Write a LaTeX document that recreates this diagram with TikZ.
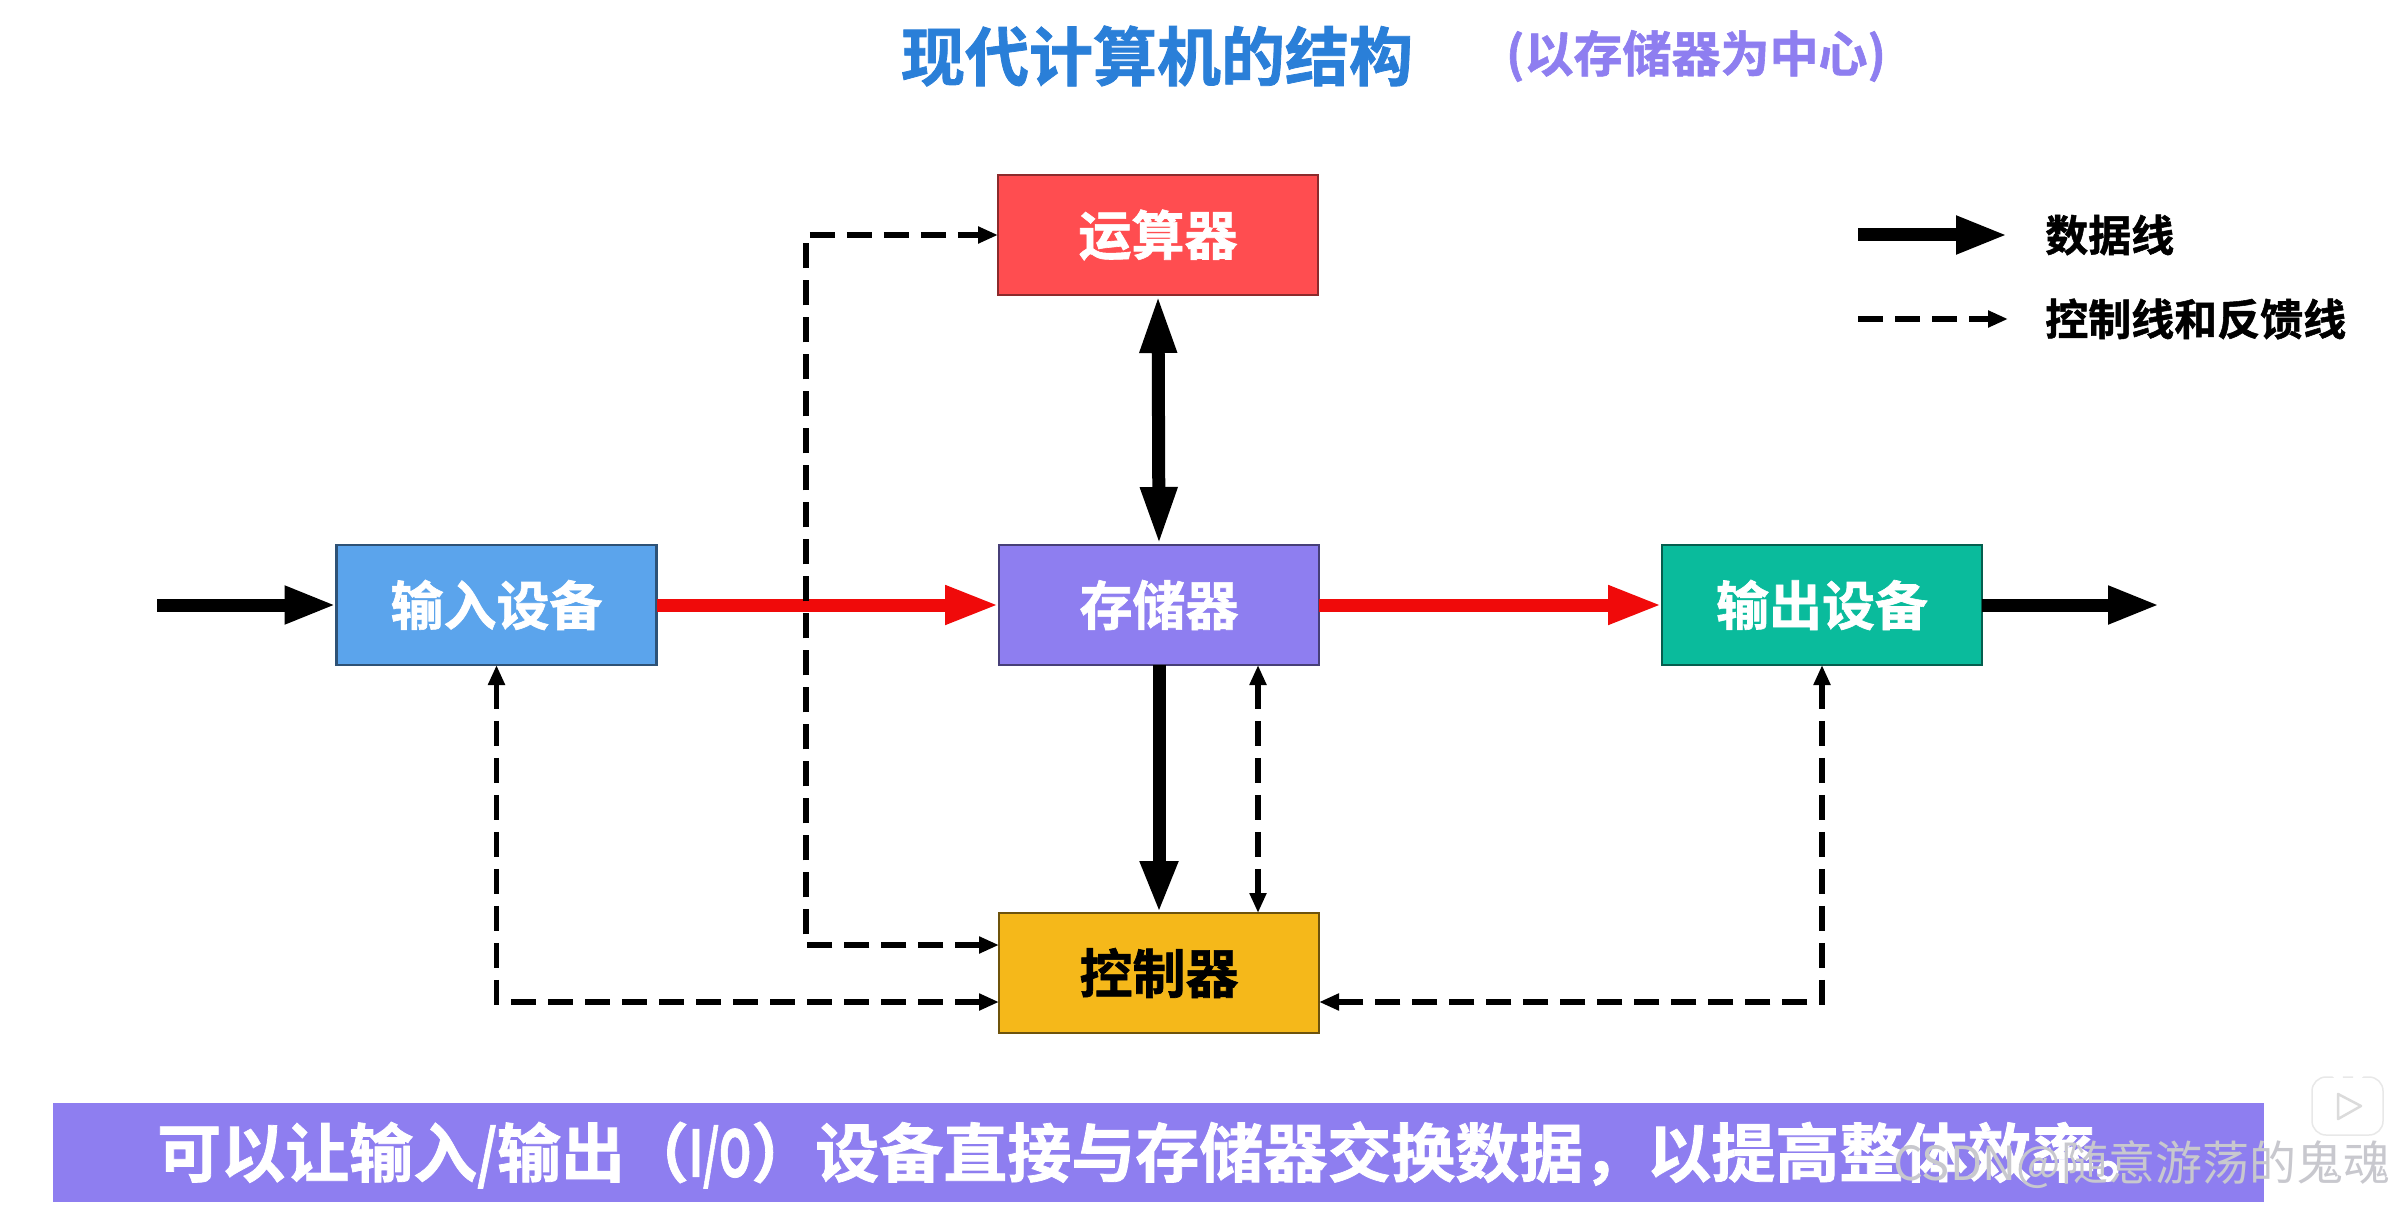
\documentclass[tikz,border=0pt]{standalone}
\usepackage{fontspec}
\usepackage{graphicx}
\setmainfont{Noto Sans CJK SC}[BoldFont={Noto Sans CJK SC Bold},BoldFeatures={FakeBold=1.2}]
\usetikzlibrary{arrows.meta}
\definecolor{cinp}{HTML}{5BA4EC}
\definecolor{calu}{HTML}{FF4D50}
\definecolor{cmem}{HTML}{8E7EF0}
\definecolor{cout}{HTML}{0ABB9C}
\definecolor{cctl}{HTML}{F5B81A}
\definecolor{ctitle}{HTML}{2A7FD8}
\definecolor{cred}{HTML}{F00A0A}
\definecolor{cmark}{HTML}{C8C8CE}
\tikzset{
  unitbox/.style={rectangle,minimum width=320pt,minimum height=120pt,outer sep=0pt,line width=2.5pt,inner sep=0pt,font=\fontsize{53}{60}\selectfont\bfseries},
  dataline/.style={line width=13pt,-{Triangle[length=52pt,width=35pt]}},
  databoth/.style={line width=13pt,{Triangle[length=58pt,width=34pt]}-{Triangle[length=58pt,width=34pt]}},
  redline/.style={line width=13pt,cred,-{Triangle[length=54pt,width=36pt]}},
  ctrlline/.style={line width=5.5pt,dash pattern=on 25pt off 12pt,-{Triangle[length=20pt,width=16pt]}},
  ctrlboth/.style={line width=5.5pt,dash pattern=on 25pt off 12pt,{Triangle[length=20pt,width=16pt]}-{Triangle[length=20pt,width=16pt]}},
  legendtext/.style={anchor=west,inner sep=0pt,font=\fontsize{43}{48}\selectfont\bfseries},
}
\begin{document}
\begin{tikzpicture}[x=1pt,y=-1pt]
\useasboundingbox (0,0) rectangle (2392,1206);
\fill[white] (0,0) rectangle (2392,1206);
% title
\node[inner sep=0pt,text=ctitle,font=\fontsize{64}{70}\selectfont\bfseries] (title) at (1157,56) {现代计算机的结构};
\node[inner sep=0pt,text=cmem,font=\fontsize{49}{54}\selectfont\bfseries] (sub) at (1696,56) {(以存储器为中心)};
% boxes
\node[unitbox,fill=calu,draw=calu!55!black,text=white] (alu) at (1158,235) {运算器};
\node[unitbox,fill=cinp,draw=cinp!50!black,text=white] (inp) at (496.5,605) {输入设备};
\node[unitbox,fill=cmem,draw=cmem!50!black,text=white] (mem) at (1159,605) {存储器};
\node[unitbox,fill=cout,draw=cout!50!black,text=white] (out) at (1822,605) {输出设备};
\node[unitbox,fill=cctl,draw=cctl!45!black,text=black] (ctl) at (1159,973) {控制器};
% free ends and bends
\coordinate (inL) at (157,605);
\coordinate (outR) at (2160,605);
\coordinate (memD) at (1258,665);
\coordinate (ctlU) at (1258,913);
\coordinate (ctlA) at (999,945);
\coordinate (bendA1) at (806,945);
\coordinate (bendA2) at (806,235);
\coordinate (ctlB) at (999,1002);
\coordinate (ctlC) at (1319,1002);
% data
\draw[dataline] (inL) -- (inp.west);
\draw[dataline] (out.east) -- (outR);
\draw[databoth] (alu.south) -- (mem.north);
\draw[dataline] (mem.south) -- (ctl.north);
\draw[redline] (inp.east) -- (mem.west);
\draw[redline] (mem.east) -- (out.west);
% control
\draw[ctrlboth] (ctlA) -- (bendA1) -- (bendA2) -- (alu.west);
\draw[ctrlboth] (inp.south) |- (ctlB);
\draw[ctrlboth] (out.south) |- (ctlC);
\draw[ctrlboth] (memD) -- (ctlU);
% legend
\coordinate (lg1a) at (1858,235);
\coordinate (lg1b) at (2008,235);
\coordinate (lg2a) at (1858,319);
\coordinate (lg2b) at (2008,319);
\draw[dataline] (lg1a) -- (lg1b);
\draw[ctrlline] (lg2a) -- (lg2b);
\node[legendtext] (lgt1) at (2045,235) {数据线};
\node[legendtext] (lgt2) at (2045,319) {控制线和反馈线};
% banner
\fill[cmem] (53,1103) rectangle (2264,1202);
\node[anchor=west,inner sep=0pt,text=white,font=\fontsize{64}{70}\selectfont\bfseries] (ban) at (157,1155) {可以让输入\scalebox{0.8}[1]{/}输出（\scalebox{0.66}[1]{I/O}）设备直接与存储器交换数据，以提高整体效率。};
% logo
\fill[white] (2312,1077) rectangle (2383,1135);
\draw[gray!18,line width=1.5pt,fill=white,rounded corners=14pt] (2312,1077) rectangle (2383,1135);
\draw[white,line width=8pt,line cap=round] (2339,1077) -- (2332,1070);
\draw[white,line width=8pt,line cap=round] (2357,1077) -- (2364,1070);
\draw[gray!28,line width=2.5pt,line join=round] (2338,1094) -- (2338,1119) -- (2361,1106) -- cycle;
% watermark
\node[anchor=west,inner sep=0pt,text=cmark,font=\fontsize{47}{52}\selectfont] (wm) at (1893,1165) {CSDN\kern-10pt\ @随意游荡的鬼魂};
\end{tikzpicture}
\end{document}
